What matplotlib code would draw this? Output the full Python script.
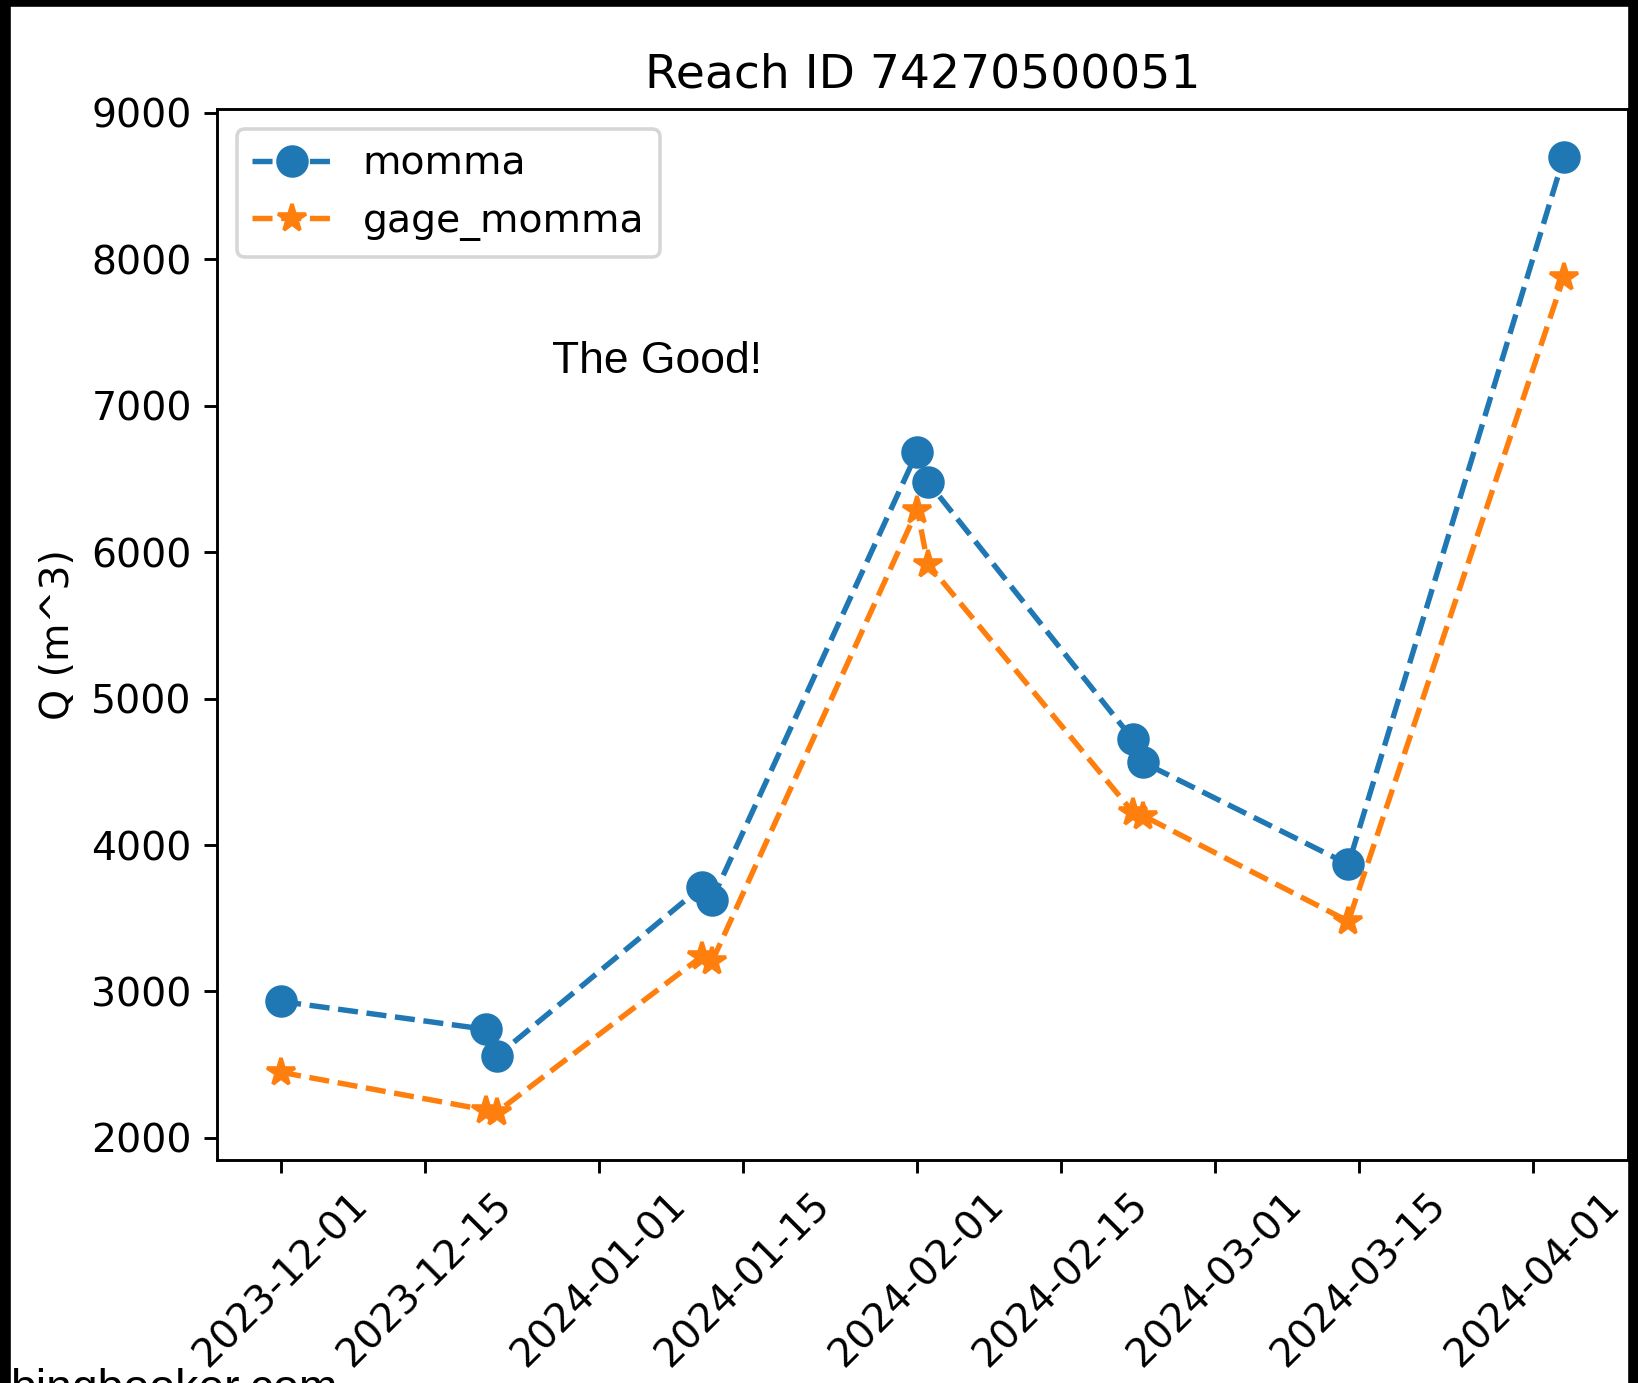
import matplotlib
matplotlib.use("Agg")
import matplotlib.pyplot as plt
import matplotlib.patches as patches
import matplotlib.dates as mdates
import pandas as pd

# SWOT overpass times for the reach
momma_dates = ["2023-12-01", "2023-12-21", "2023-12-22", "2024-01-11", "2024-01-12",
               "2024-02-01", "2024-02-02", "2024-02-22", "2024-02-23", "2024-03-14",
               "2024-04-04"]
momma_q = [2932, 2741, 2557, 3716, 3628, 6687, 6482, 4721, 4564, 3868, 8700]
gage_momma_q = [2448, 2190, 2175, 3240, 3206, 6291, 5922, 4224, 4200, 3479, 7881]

reach_id = "74270500051"

dates = pd.to_datetime(momma_dates)

plt.rcParams["font.size"] = 10.9

fig = plt.figure(figsize=(1638 / 260, 1383 / 260), dpi=260)
ax = fig.add_axes([0.1325, 0.1612, 0.8614, 0.76])

ax.plot(dates, momma_q, linestyle="--", marker="o", markersize=8, label="momma")
ax.plot(dates, gage_momma_q, linestyle="--", marker="*", markersize=8, label="gage_momma")

ax.set_title(f"Reach ID {reach_id}")
ax.set_ylabel("Q (m^3)")
ax.legend(loc="upper left")

ax.xaxis.set_major_locator(mdates.DayLocator(bymonthday=[1, 15]))
ax.xaxis.set_major_formatter(mdates.DateFormatter("%Y-%m-%d"))
plt.setp(ax.get_xticklabels(), rotation=45)

fig.text(552 / 1638, 1 - 373 / 1383, "The Good!", family="Liberation Sans",
         fontsize=12.3, va="baseline", ha="left")
fig.text(10 / 1638, 1 - 1368 / 1383, "bingbooker.com", family="Liberation Sans",
         fontsize=12.8, va="top", ha="left")

# screenshot frame
fig.patches.append(patches.Rectangle((0, 0), 9 / 1638, 1, transform=fig.transFigure,
                                     color="black", zorder=10))
fig.patches.append(patches.Rectangle((0, 1 - 5 / 1383), 1, 5 / 1383, transform=fig.transFigure,
                                     color="black", zorder=10))
fig.patches.append(patches.Rectangle((1630 / 1638, 0), 8 / 1638, 1, transform=fig.transFigure,
                                     color="black", zorder=10))

fig.savefig("out.png", dpi=260)
